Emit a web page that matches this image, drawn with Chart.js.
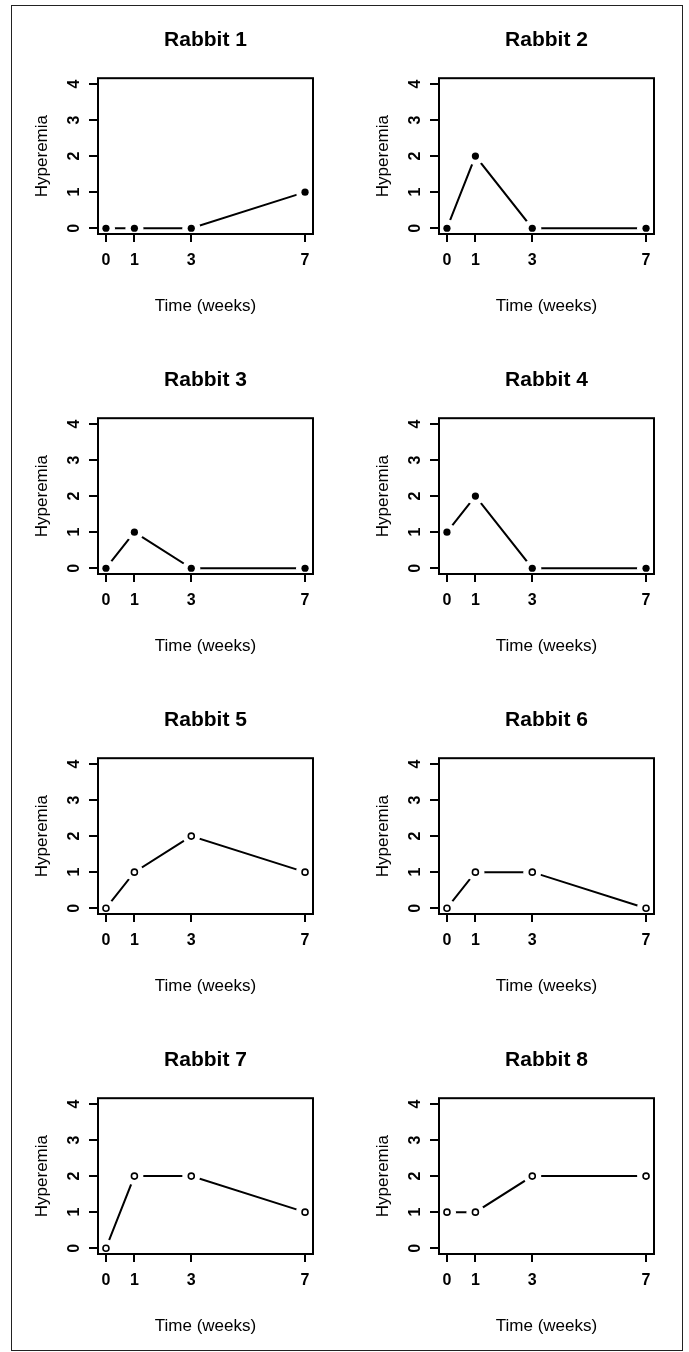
<!DOCTYPE html>
<html>
<head>
<meta charset="utf-8">
<script src="https://cdn.jsdelivr.net/npm/chart.js@4"></script>
<style>
  body { margin: 0; background: #fff; width: 689px; height: 1352px; overflow: hidden; position: relative; }
  #frame { position: absolute; left: 11px; top: 5px; width: 670px; height: 1344px; border: 1.5px solid #222; }
  canvas { position: absolute; }
</style>
</head>
<body>
<div id="frame"></div>

<script>
// ---------------------- DATA ----------------------
const weeks = [0, 1, 3, 7];
const hyperemiaTicks = [0, 1, 2, 3, 4];
const rabbitNames = ["Rabbit 1", "Rabbit 2", "Rabbit 3", "Rabbit 4", "Rabbit 5", "Rabbit 6", "Rabbit 7", "Rabbit 8"];

const rabbit1 = [0, 0, 0, 1];
const rabbit2 = [0, 2, 0, 0];
const rabbit3 = [0, 1, 0, 0];
const rabbit4 = [1, 2, 0, 0];
const rabbit5 = [0, 1, 2, 1];
const rabbit6 = [0, 1, 1, 0];
const rabbit7 = [0, 2, 2, 1];
const rabbit8 = [1, 1, 2, 2];
const rabbitValues = [rabbit1, rabbit2, rabbit3, rabbit4, rabbit5, rabbit6, rabbit7, rabbit8];

// first four rabbits use filled dots, the rest open circles
const filledMarkers = [true, true, true, true, false, false, false, false];

// ---------------------- HELPERS ----------------------
const FONT = "'Liberation Sans', Arial, Helvetica, sans-serif";

// R-style box around the plotting region
const boxPlugin = {
  id: "box",
  afterDatasetsDraw(chart) {
    const { left, top, width, height } = chart.chartArea;
    const ctx = chart.ctx;
    ctx.save();
    ctx.strokeStyle = "#000";
    ctx.lineWidth = 2;
    ctx.strokeRect(left, top, width, height);
    ctx.restore();
  },
};

function makePanel(index) {
  const col = index % 2;
  const row = Math.floor(index / 2);

  const canvas = document.createElement("canvas");
  canvas.width = 340;
  canvas.height = 332;
  canvas.style.left = col * 341 + "px";
  canvas.style.top = row * 340 + "px";
  document.body.appendChild(canvas);

  const points = weeks.map((w, i) => ({ x: w, y: rabbitValues[index][i] }));
  const filled = filledMarkers[index];

  new Chart(canvas, {
    type: "line",
    data: {
      datasets: [
        {
          // connecting line; its own big white points cut the gaps (type "b" look)
          data: points,
          borderColor: "#000",
          borderWidth: 2,
          tension: 0,
          pointRadius: 9,
          pointBackgroundColor: "#fff",
          pointBorderWidth: 0,
          order: 2,
        },
        {
          data: points.map((p) => ({ ...p })),
          showLine: false,
          pointRadius: filled ? 3.6 : 3,
          pointBackgroundColor: filled ? "#000" : "#fff",
          pointBorderColor: "#000",
          pointBorderWidth: filled ? 0 : 1.6,
          order: 1,
        },
      ],
    },
    options: {
      responsive: false,
      animation: false,
      events: [],
      layout: { padding: { left: 0, right: 27, top: 0, bottom: 0 } },
      plugins: {
        legend: { display: false },
        tooltip: { enabled: false },
        title: {
          display: true,
          fullSize: false,
          text: rabbitNames[index],
          color: "#000",
          font: { family: FONT, size: 21, weight: "bold" },
          padding: { top: 28, bottom: 25 },
        },
      },
      scales: {
        x: {
          type: "linear",
          min: -0.28,
          max: 7.28,
          afterBuildTicks: (s) => { s.ticks = weeks.map((v) => ({ value: v })); },
          afterFit: (s) => { s.height = 98; },
          ticks: {
            color: "#000",
            font: { family: FONT, size: 16, weight: "bold" },
            padding: 9,
            maxRotation: 0,
            autoSkip: false,
            callback: (v) => String(v),
          },
          grid: { drawOnChartArea: false, drawTicks: true, tickLength: 8, color: "#000", lineWidth: 2 },
          border: { display: false },
          title: {
            display: true,
            text: "Time (weeks)",
            color: "#000",
            font: { family: FONT, size: 17 },
            padding: { top: 0, bottom: 15 },
          },
        },
        y: {
          type: "linear",
          min: -0.16,
          max: 4.16,
          afterBuildTicks: (s) => { s.ticks = hyperemiaTicks.map((v) => ({ value: v })); },
          afterFit: (s) => { s.width = 98; },
          ticks: {
            color: "#000",
            font: { family: FONT, size: 16, weight: "bold" },
            minRotation: 90,
            maxRotation: 90,
            crossAlign: "center",
            padding: 10,
            autoSkip: false,
            callback: (v) => String(v),
          },
          grid: { drawOnChartArea: false, drawTicks: true, tickLength: 9, color: "#000", lineWidth: 2 },
          border: { display: false },
          title: {
            display: true,
            text: "Hyperemia",
            color: "#000",
            font: { family: FONT, size: 17 },
            padding: { top: 32, bottom: 0 },
          },
        },
      },
    },
    plugins: [boxPlugin],
  });
}

// ---------------------- RENDER ALL PANELS ----------------------
rabbitNames.forEach((_, i) => makePanel(i));
</script>
</body>
</html>
